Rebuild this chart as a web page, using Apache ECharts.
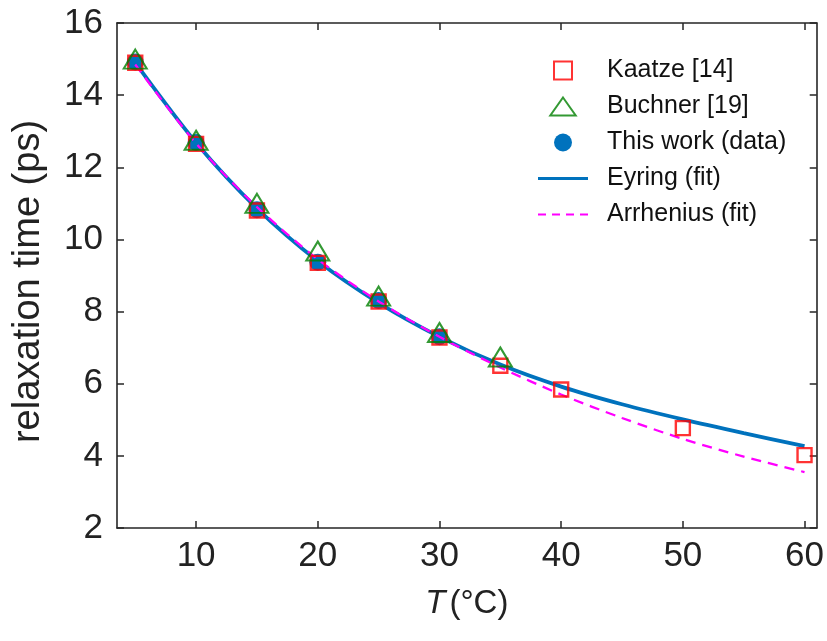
<!DOCTYPE html>
<html><head><meta charset="utf-8">
<script src="https://cdn.jsdelivr.net/npm/echarts@6/dist/echarts.min.js"></script>
<style>html,body{margin:0;padding:0;background:#fff}#c{width:827px;height:641px}</style>
</head><body><div id="c"></div><script>
const dataT = [5, 10, 15, 20, 25, 30];
const thisWork = [14.92, 12.69, 10.82, 9.37, 8.31, 7.30];
const kaatzeT = [5, 10, 15, 20, 25, 30, 35, 40, 50, 60];
const kaatze = [14.9, 12.65, 10.8, 9.35, 8.28, 7.28, 6.50, 5.84, 4.77, 4.02];
const buchnerT = [5, 10, 15, 20, 25, 30, 35];
const buchner = [15.0, 12.75, 11.0, 9.68, 8.43, 7.42, 6.74];
const fitT = [5, 10, 15, 20, 25, 30, 35, 40, 45, 50, 55, 60];
const eyring = [14.9, 12.68, 10.86, 9.40, 8.24, 7.30, 6.53, 5.92, 5.43, 5.01, 4.63, 4.27];
const arrhenius = [14.85, 12.66, 10.9, 9.45, 8.28, 7.30, 6.45, 5.70, 5.05, 4.47, 3.98, 3.55];
const xTicks = [10, 20, 30, 40, 50, 60];

const FONT = "'Liberation Sans', Arial, sans-serif";
const AX = '#262626';
const TXT = '#222';
const zip = (a, b) => a.map((v, i) => [v, b[i]]);

const chart = echarts.init(document.getElementById('c'), null, {renderer: 'canvas'});
const axisCommon = {
  axisLine: {show: true, onZero: false, lineStyle: {color: AX, width: 1.6}},
  axisTick: {show: true, inside: true, length: 7, lineStyle: {color: AX, width: 1.5}},
  splitLine: {show: false}
};
chart.setOption({
  animation: false,
  textStyle: {fontFamily: FONT},
  grid: {left: 117, top: 23, right: 10, bottom: 113, containLabel: false},
  legend: {
    orient: 'vertical', left: 538, top: 58, padding: 0, itemWidth: 50, itemHeight: 18, itemGap: 11,
    symbolKeepAspect: true,
    textStyle: {fontFamily: FONT, fontSize: 25, color: '#111', padding: [0, 0, 0, 14]},
    data: [
      {name: 'Kaatze [14]', icon: 'path://M0,0L10,0L10,10L0,10Z'},
      {name: 'Buchner [19]', icon: 'path://M12,0L24,17L0,17Z'},
      {name: 'This work (data)', icon: 'circle'},
      {name: 'Eyring (fit)', icon: 'path://M0,0L50,0L50,3L0,3Z'},
      {name: 'Arrhenius (fit)', icon: 'path://M0,0h8v2h-8zM14,0h8v2h-8zM28,0h8v2h-8zM42,0h8v2h-8z'}
    ]
  },
  xAxis: [
    Object.assign({}, axisCommon, {
      type: 'value', min: 3.5, max: 61,
      axisTick: Object.assign({}, axisCommon.axisTick, {customValues: xTicks}),
      axisLabel: {customValues: xTicks, fontSize: 35, color: TXT, margin: 11, fontFamily: FONT},
      name: '{i|T}(°C)', nameLocation: 'middle', nameGap: 59,
      nameTextStyle: {fontSize: 33, color: TXT, fontFamily: FONT,
        rich: {i: {fontStyle: 'italic', fontSize: 33, fontFamily: FONT, color: TXT, padding: [0, 4, 0, 0]}}}
    }),
    Object.assign({}, axisCommon, {
      type: 'value', min: 3.5, max: 61, position: 'top',
      axisTick: Object.assign({}, axisCommon.axisTick, {customValues: xTicks}),
      axisLabel: {show: false}
    })
  ],
  yAxis: [
    Object.assign({}, axisCommon, {
      type: 'value', min: 2, max: 16, interval: 2,
      axisLabel: {fontSize: 35, color: TXT, margin: 14, fontFamily: FONT},
      name: 'relaxation time (ps)', nameLocation: 'middle', nameGap: 69, nameRotate: 90,
      nameTextStyle: {fontSize: 38, color: TXT, fontFamily: FONT, padding: [0, 12, 0, 0]}
    }),
    Object.assign({}, axisCommon, {
      type: 'value', min: 2, max: 16, interval: 2, position: 'right',
      axisLabel: {show: false}
    })
  ],
  series: [
    {name: 'This work (data)', type: 'scatter', symbol: 'circle', symbolSize: 17, z: 2,
     itemStyle: {color: '#0072BD', opacity: 1}, data: zip(dataT, thisWork)},
    {name: 'Eyring (fit)', type: 'line', smooth: 0.3, showSymbol: false, symbol: 'none', z: 3,
     lineStyle: {color: '#0072BD', width: 3.8}, itemStyle: {color: '#0072BD'}, data: zip(fitT, eyring)},
    {name: 'Arrhenius (fit)', type: 'line', smooth: 0.3, showSymbol: false, symbol: 'none', z: 3,
     lineStyle: {color: '#FF00FF', width: 2.3, type: [10, 7]}, itemStyle: {color: '#FF00FF'}, data: zip(fitT, arrhenius)},
    {name: 'Kaatze [14]', type: 'scatter', symbol: 'rect', symbolSize: 14, z: 4,
     itemStyle: {color: 'rgba(0,0,0,0)', borderColor: '#FF0000', borderWidth: 2.4}, data: zip(kaatzeT, kaatze)},
    {name: 'Buchner [19]', type: 'scatter', symbol: 'triangle', symbolSize: [23, 19], z: 5,
     itemStyle: {color: 'rgba(0,0,0,0)', borderColor: '#008000', borderWidth: 2}, data: zip(buchnerT, buchner)}
  ]
});
</script></body></html>
